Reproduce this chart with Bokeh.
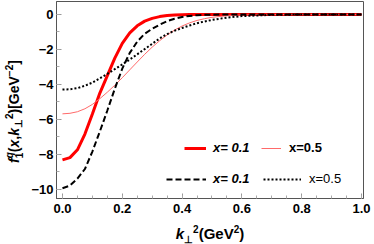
from bokeh.plotting import figure
from bokeh.models import Range1d, FixedTicker, Legend, LegendItem, Div, CustomJSTickFormatter, PrintfTickFormatter
from bokeh.layouts import column, row
from bokeh.embed import file_html
from bokeh.resources import INLINE

# ---- data ----
kt2 = [0.0, 0.025, 0.05, 0.075, 0.1, 0.125, 0.15, 0.175, 0.2, 0.225, 0.25, 0.275,
       0.3, 0.325, 0.35, 0.375, 0.4, 0.425, 0.45, 0.475, 0.5, 0.55, 0.6, 0.7, 0.8, 0.9, 1.0]
solid_x01 = [-8.33, -8.20, -7.75, -6.85, -5.70, -4.50, -3.50, -2.50, -1.65, -1.05, -0.65, -0.38,
             -0.22, -0.12, -0.06, -0.03, -0.01, 0, 0, 0, 0, 0, 0, 0, 0, 0, 0]
solid_x05 = [-5.69, -5.66, -5.57, -5.40, -5.15, -4.82, -4.45, -4.05, -3.62, -3.17, -2.72, -2.28,
             -1.87, -1.50, -1.17, -0.89, -0.66, -0.48, -0.34, -0.24, -0.16, -0.07, -0.03, 0, 0, 0, 0]
dashed_x01 = [-9.95, -9.80, -9.40, -8.85, -7.85, -6.70, -5.50, -4.25, -3.10, -2.20, -1.55, -1.10,
              -0.82, -0.58, -0.38, -0.24, -0.14, -0.08, -0.04, -0.02, -0.01, 0, 0, 0, 0, 0, 0]
dotted_x05 = [-4.30, -4.28, -4.22, -4.08, -3.90, -3.65, -3.40, -3.13, -2.86, -2.58, -2.28, -1.98,
              -1.68, -1.37, -1.12, -0.93, -0.77, -0.63, -0.50, -0.40, -0.31, -0.18, -0.09, -0.02, 0, 0, 0]
legend_labels = ["x= 0.1", "x=0.5", "x= 0.1", "x=0.5"]
x_ticks = [0.0, 0.2, 0.4, 0.6, 0.8, 1.0]
x_minor = [i * 0.05 for i in range(21)]
y_ticks = [0, -2, -4, -6, -8, -10]
y_minor = [-i for i in range(11)]

FONT = "Liberation Sans"

p = figure(width=346, height=218, output_backend="svg", toolbar_location=None,
           x_range=Range1d(-0.02, 1.0067), y_range=Range1d(-10.54, 0.745),
           min_border_left=27, min_border_right=11, min_border_top=1, min_border_bottom=20)
p.grid.visible = False
p.outline_line_color = "#555555"
p.outline_line_width = 1
p.background_fill_color = "white"
p.border_fill_color = "white"

for ax in (p.xaxis[0], p.yaxis[0]):
    ax.axis_line_color = "#555555"
    ax.major_tick_in = 5
    ax.major_tick_out = 0
    ax.minor_tick_in = 3
    ax.minor_tick_out = 0
    ax.major_tick_line_color = "#999999"
    ax.minor_tick_line_color = "#aaaaaa"
    ax.major_label_text_font = FONT
    ax.major_label_text_font_style = "bold"
    ax.major_label_text_font_size = "13px"
    ax.major_label_text_color = "black"

p.xaxis[0].ticker = FixedTicker(ticks=x_ticks, minor_ticks=x_minor)
p.xaxis[0].formatter = PrintfTickFormatter(format="%.1f")
p.xaxis[0].major_label_standoff = 5
p.yaxis[0].ticker = FixedTicker(ticks=y_ticks, minor_ticks=y_minor)
p.yaxis[0].formatter = CustomJSTickFormatter(
    code="return tick < 0 ? '\u2212' + Math.abs(tick) : String(tick);")
p.yaxis[0].major_label_standoff = 3

r1 = p.line(kt2, solid_x01, line_color="#ff0000", line_width=3)
r2 = p.line(kt2, solid_x05, line_color="#ff6a6a", line_width=1)
r3 = p.line(kt2, dashed_x01, line_color="black", line_width=2, line_dash="6 3")
r4 = p.line(kt2, dotted_x05, line_color="black", line_width=2, line_dash="2 2")

def add_legend(r, label, loc, gw, standoff, style):
    lg = Legend(items=[LegendItem(label=label, renderers=[r])], location=loc,
                glyph_width=gw, glyph_height=14, label_height=14,
                label_standoff=standoff, padding=0, margin=0, spacing=0,
                border_line_alpha=0, background_fill_alpha=0,
                label_text_font=FONT, label_text_font_style=style,
                label_text_font_size="13px", label_text_color="black")
    p.add_layout(lg)

add_legend(r1, legend_labels[0], (128, 43), 22, 7, "bold italic")
add_legend(r2, legend_labels[1], (205, 43), 20, 8, "bold")
add_legend(r3, legend_labels[2], (110, 12), 40, 7, "bold italic")
add_legend(r4, legend_labels[3], (207, 12), 38, 8, "normal")

SUP = 'style="font-size:10px"'
ytitle_html = (
    '<div style="position:relative;width:28px;height:218px;">'
    '<div style="position:absolute;left:0px;top:163px;transform-origin:0 0;transform:rotate(-90deg);'
    'white-space:nowrap;font-family:\'Liberation Sans\';font-weight:bold;font-size:14px;'
    'color:black;line-height:20px;">'
    '<i>f</i><span style="display:inline-block;vertical-align:middle;font-size:10px;line-height:10px;">'
    '<i>q</i><br>1</span>(<i>x</i>,<i>k</i>'
    f'<sub {SUP}>\u22a5</sub><sup {SUP}>2</sup>)[GeV<sup {SUP}>\u22122</sup>]'
    '</div></div>')
xtitle_html = (
    '<div style="position:relative;width:374px;height:26px;">'
    '<div style="position:absolute;left:0px;top:4px;width:374px;text-align:center;'
    'box-sizing:border-box;padding-left:46px;font-family:\'Liberation Sans\';'
    'font-weight:bold;font-size:15px;color:black;line-height:16px;white-space:nowrap;">'
    f'<i>k</i><sub {SUP}>\u22a5</sub><sup {SUP}>2</sup>(GeV<sup {SUP}>2</sup>)'
    '</div></div>')

ydiv = Div(text=ytitle_html, width=28, height=218, margin=0)
xdiv = Div(text=xtitle_html, width=374, height=26, margin=0)

layout = column(row(ydiv, p, spacing=0), xdiv, spacing=0)

open("out.html", "w").write(file_html(layout, INLINE))
